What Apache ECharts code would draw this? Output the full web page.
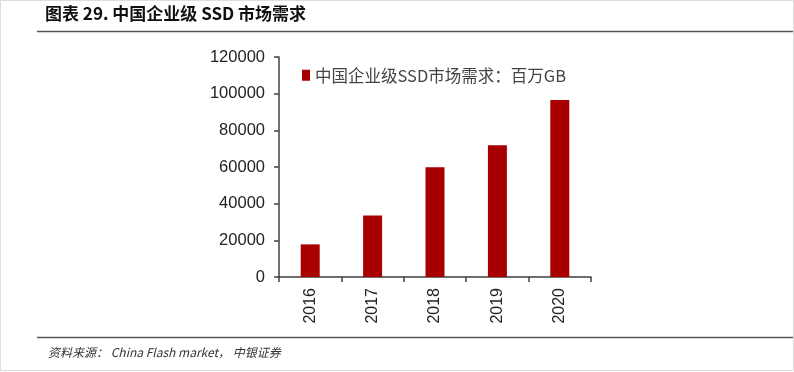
<!DOCTYPE html>
<html><head><meta charset="utf-8">
<script src="https://cdn.jsdelivr.net/npm/echarts@6/dist/echarts.min.js"></script>
<style>html,body{margin:0;padding:0;background:#fff}#c{width:794px;height:372px}</style>
</head><body><div id="c"></div>
<script>
const categories = ['2016','2017','2018','2019','2020'];
const demand = [17800, 33600, 59800, 71800, 96500];
const seriesName = '中国企业级SSD市场需求：百万GB';
const yTicks = [0, 20000, 40000, 60000, 80000, 100000, 120000];

const chart = echarts.init(document.getElementById('c'), null, {renderer:'canvas'});
chart.setOption({
  animation:false,
  backgroundColor:'#fff',
  grid:{left:279, right:203, top:57, bottom:95, containLabel:false},
  legend:{
    left:297, top:62, itemWidth:8, itemHeight:11, itemGap:5,
    data:[{name:seriesName, icon:'rect'}],
    textStyle:{fontFamily:'"Noto Sans CJK SC", "Liberation Sans", sans-serif', fontSize:16.5, color:'#444'}
  },
  xAxis:{
    type:'category', data:categories, boundaryGap:true,
    axisLine:{lineStyle:{color:'#404040', width:1.5}},
    axisTick:{show:true, alignWithLabel:false, inside:false, length:5, lineStyle:{color:'#404040', width:1.5}},
    axisLabel:{rotate:90, margin:11, fontSize:16, color:'#222', fontFamily:'"Liberation Sans", Arial, sans-serif'}
  },
  yAxis:{
    type:'value', min:yTicks[0], max:yTicks[yTicks.length-1], interval:20000,
    axisLine:{show:true, lineStyle:{color:'#404040', width:1.5}},
    axisTick:{show:true, inside:false, length:5, lineStyle:{color:'#404040', width:1.5}},
    splitLine:{show:false},
    axisLabel:{margin:14, fontSize:16.5, color:'#222', fontFamily:'"Liberation Sans", Arial, sans-serif', formatter:function(v){return String(v);}}
  },
  series:[{
    name:seriesName, type:'bar', data:demand, barWidth:19,
    itemStyle:{color:'#A80000'}
  }],
  graphic:[
    {type:'text', left:45, top:5, style:{text:'图表 29. 中国企业级 SSD 市场需求', fontSize:17, fontWeight:'bold', fill:'#111', fontFamily:'"Noto Sans CJK SC", sans-serif'}},
    {type:'line', shape:{x1:37, y1:31.5, x2:794, y2:31.5}, style:{stroke:'#555', lineWidth:1.5}},
    {type:'line', shape:{x1:37, y1:337.5, x2:794, y2:337.5}, style:{stroke:'#555', lineWidth:1.5}},
    {type:'text', left:48, top:346, style:{text:'资料来源： China Flash market， 中银证券', fontSize:12, fontStyle:'italic', fill:'#333', fontFamily:'"Noto Sans CJK SC", "Liberation Sans", sans-serif'}},
    {type:'rect', shape:{x:0.5, y:0.5, width:793, height:370}, style:{fill:'none', stroke:'#ddd', lineWidth:1}}
  ]
});
</script></body></html>
